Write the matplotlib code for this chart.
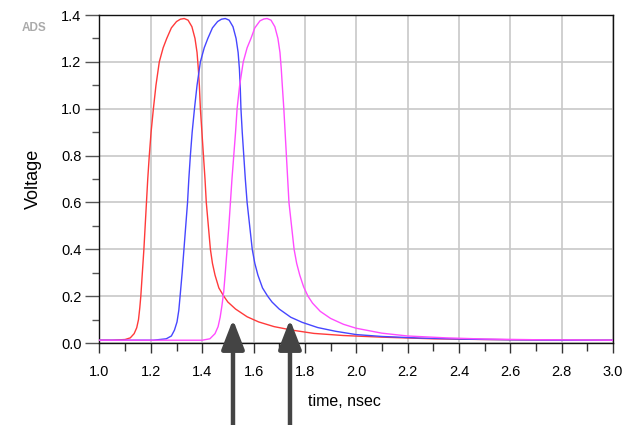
import numpy as np
import matplotlib.pyplot as plt
from matplotlib.ticker import MultipleLocator

plt.rcParams['font.family'] = ['Liberation Sans', 'DejaVu Sans']

# pulse traces (time in nsec, voltage in V)
t_red = [1.00, 1.05, 1.10, 1.12, 1.135, 1.145, 1.152, 1.157, 1.161, 1.167, 1.173, 1.178,
         1.183, 1.188, 1.194, 1.201, 1.21, 1.22, 1.233, 1.248, 1.262, 1.28, 1.30, 1.315,
         1.33, 1.345, 1.36, 1.372, 1.38, 1.385, 1.389, 1.393, 1.399, 1.405, 1.411, 1.416,
         1.424, 1.432, 1.44, 1.45, 1.465, 1.484, 1.50, 1.53, 1.575, 1.62, 1.68, 1.75,
         1.835, 1.95, 2.1, 2.3, 2.5, 2.8, 3.0]
v_red = [0.012, 0.012, 0.015, 0.022, 0.04, 0.065, 0.10, 0.15, 0.20, 0.30, 0.40, 0.50,
         0.60, 0.70, 0.80, 0.90, 1.00, 1.10, 1.20, 1.26, 1.30, 1.345, 1.372, 1.382,
         1.385, 1.378, 1.35, 1.30, 1.24, 1.17, 1.10, 1.00, 0.90, 0.80, 0.70, 0.60,
         0.50, 0.40, 0.34, 0.29, 0.235, 0.20, 0.175, 0.145, 0.112, 0.09, 0.07, 0.055,
         0.041, 0.032, 0.025, 0.018, 0.015, 0.012, 0.012]

t_blue = [1.00, 1.10, 1.21, 1.26, 1.28, 1.292, 1.302, 1.309, 1.314, 1.322, 1.329, 1.336,
          1.343, 1.348, 1.354, 1.361, 1.37, 1.38, 1.393, 1.408, 1.422, 1.44, 1.46, 1.475,
          1.49, 1.505, 1.52, 1.532, 1.54, 1.545, 1.548, 1.551, 1.556, 1.562, 1.568, 1.575,
          1.585, 1.595, 1.605, 1.617, 1.635, 1.655, 1.672, 1.70, 1.745, 1.79, 1.85, 1.92,
          2.00, 2.1, 2.25, 2.45, 2.6, 2.8, 3.0]
v_blue = [0.012, 0.012, 0.012, 0.018, 0.03, 0.055, 0.09, 0.14, 0.20, 0.30, 0.40, 0.50,
          0.60, 0.70, 0.80, 0.90, 1.00, 1.10, 1.20, 1.26, 1.30, 1.345, 1.372, 1.382,
          1.385, 1.378, 1.35, 1.30, 1.24, 1.17, 1.10, 1.00, 0.90, 0.80, 0.70, 0.60,
          0.50, 0.40, 0.34, 0.29, 0.235, 0.20, 0.175, 0.145, 0.11, 0.088, 0.066, 0.05,
          0.036, 0.028, 0.021, 0.016, 0.014, 0.012, 0.012]

t_mag = [1.00, 1.10, 1.20, 1.30, 1.40, 1.43, 1.45, 1.462, 1.47, 1.477, 1.484, 1.49,
         1.497, 1.504, 1.51, 1.516, 1.523, 1.53, 1.536, 1.546, 1.56, 1.575, 1.59, 1.605,
         1.625, 1.64, 1.653, 1.668, 1.683, 1.695, 1.703, 1.708, 1.712, 1.718, 1.723,
         1.728, 1.733, 1.738, 1.748, 1.758, 1.768, 1.78, 1.795, 1.812, 1.83, 1.86, 1.90,
         1.95, 2.00, 2.1, 2.2, 2.35, 2.5, 2.7, 3.0]
v_mag = [0.012, 0.012, 0.012, 0.012, 0.012, 0.018, 0.04, 0.07, 0.11, 0.16, 0.22, 0.30,
         0.40, 0.50, 0.60, 0.70, 0.80, 0.90, 1.00, 1.10, 1.20, 1.26, 1.30, 1.345,
         1.375, 1.383, 1.385, 1.378, 1.35, 1.30, 1.24, 1.17, 1.10, 1.00, 0.90,
         0.80, 0.70, 0.60, 0.50, 0.40, 0.34, 0.29, 0.24, 0.20, 0.17, 0.135, 0.105,
         0.08, 0.063, 0.042, 0.03, 0.022, 0.017, 0.014, 0.012]

# arrow markers (time, voltage at tip)
arrow_t = [1.52, 1.742]
arrow_v = [0.10, 0.10]

fig = plt.figure(figsize=(6.28, 4.25), dpi=100)
ax = fig.add_axes([0.1584, 0.1929, 0.8177, 0.7718])

ax.plot(t_red, v_red, color='#ff3a3a', lw=1.0, zorder=3)
ax.plot(t_blue, v_blue, color='#4646ff', lw=1.0, zorder=3)
ax.plot(t_mag, v_mag, color='#ff4cff', lw=1.0, zorder=3)

ax.set_xlim(1.0, 3.0)
ax.set_ylim(0.0, 1.4)
ax.xaxis.set_major_locator(MultipleLocator(0.2))
ax.xaxis.set_minor_locator(MultipleLocator(0.1))
ax.yaxis.set_major_locator(MultipleLocator(0.2))
ax.yaxis.set_minor_locator(MultipleLocator(0.1))
ax.xaxis.set_major_formatter(plt.FormatStrFormatter('%.1f'))
ax.yaxis.set_major_formatter(plt.FormatStrFormatter('%.1f'))

ax.grid(True, which='major', color='#c8c8c8', lw=1.2, zorder=0)
ax.tick_params(axis='x', which='major', length=7, width=1, color='#333333',
               pad=9, labelsize=10.5)
ax.tick_params(axis='x', which='minor', length=6, width=1, color='#333333')
ax.tick_params(axis='y', which='major', length=10, width=1, color='#555555',
               pad=3, labelsize=10.5)
ax.tick_params(axis='y', which='minor', length=5, width=1, color='#555555')
for side in ['top', 'right', 'bottom', 'left']:
    ax.spines[side].set_color('#111111')
    ax.spines[side].set_linewidth(1.0)

ax.set_xlabel('time, nsec', fontsize=11.5)
ax.xaxis.set_label_coords(0.478, -0.155)
ax.set_ylabel('Voltage', fontsize=13)
ax.yaxis.set_label_coords(-0.112, 0.5)

fig.text(22 / 628, 1 - 31 / 425, 'ADS', color='#aaaaaa', fontsize=8.5,
         fontweight='bold')

for at, av in zip(arrow_t, arrow_v):
    ax.annotate('', xy=(at, av), xytext=(at, -0.45),
                arrowprops=dict(arrowstyle='-|>,head_width=0.35,head_length=0.9',
                                color='#444444', lw=3.2, mutation_scale=20,
                                shrinkA=0, shrinkB=0),
                annotation_clip=False, zorder=5)

fig.savefig('out.png', dpi=100)
